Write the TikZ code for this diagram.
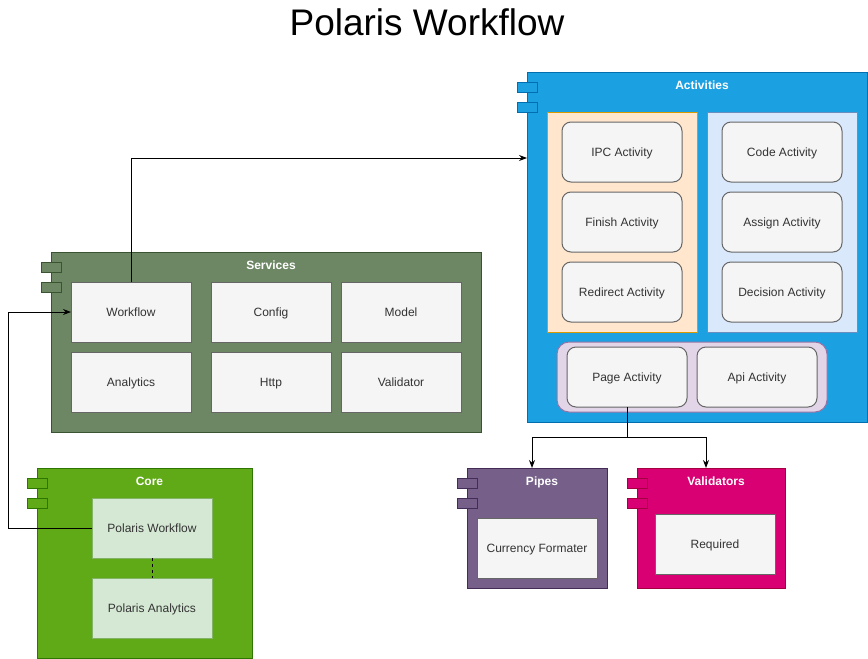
\documentclass[tikz,border=0pt]{standalone}
\usepackage{fontspec}
\setmainfont{Liberation Sans}
\usetikzlibrary{calc,arrows.meta}
\definecolor{actfill}{HTML}{1BA1E2}
\definecolor{actdraw}{HTML}{006EAF}
\definecolor{orfill}{HTML}{FFE6CC}
\definecolor{ordraw}{HTML}{D79B00}
\definecolor{lbfill}{HTML}{DAE8FC}
\definecolor{lbdraw}{HTML}{6C8EBF}
\definecolor{pufill}{HTML}{E1D5E7}
\definecolor{pudraw}{HTML}{9673A6}
\definecolor{itfill}{HTML}{F5F5F5}
\definecolor{itdraw}{HTML}{666666}
\definecolor{ittext}{HTML}{333333}
\definecolor{svfill}{HTML}{6D8764}
\definecolor{svdraw}{HTML}{3A5431}
\definecolor{cofill}{HTML}{60A917}
\definecolor{codraw}{HTML}{2D7600}
\definecolor{gifill}{HTML}{D5E8D4}
\definecolor{gidraw}{HTML}{82B366}
\definecolor{pifill}{HTML}{76608A}
\definecolor{pidraw}{HTML}{432D57}
\definecolor{vafill}{HTML}{D80073}
\definecolor{vadraw}{HTML}{A50040}
\tikzset{
  pack/.style 2 args={fill=#1, draw=#2, line width=1pt, inner sep=0pt, outer sep=0pt},
  tab/.style 2 args={pack={#1}{#2}, minimum width=20pt, minimum height=10pt},
  packtitle/.style={text=white, font=\fontsize{12}{14}\selectfont\bfseries,
    text height=8.6pt, text depth=0pt, inner sep=0pt},
  item/.style={fill=itfill, draw=itdraw, text=ittext, line width=1pt, inner sep=0pt,
    outer sep=0pt, minimum width=120pt, minimum height=60pt, text height=8.6pt, text depth=0pt},
  ritem/.style={item, rounded corners=9pt},
  link/.style={draw=black, line width=1pt, -{Stealth[length=8pt,width=6pt]}}
}
\newcommand{\packdeco}[4]{%
  \node[tab={#2}{#3}] (#1t1) at ($(#1.north west)+(0,15)$) {};
  \node[tab={#2}{#3}] (#1t2) at ($(#1.north west)+(0,35)$) {};
  \node[packtitle] (#1title) at ($(#1.north)+(5,13)$) {#4};}
\begin{document}
\begin{tikzpicture}[x=1pt, y=-1pt, font=\fontsize{12}{14}\selectfont]
	\useasboundingbox (0,0) rectangle (868,659);
	\node[font=\fontsize{37}{40}\selectfont] (title) at (427,22) {Polaris Workflow};
	% Activities package
	\node[pack={actfill}{actdraw}, minimum width=340pt, minimum height=350pt] (act) at (697,247) {};
	\packdeco{act}{actfill}{actdraw}{Activities}
	\node[pack={orfill}{ordraw}, minimum width=150pt, minimum height=220pt] (orng) at (622,222) {};
	\node[pack={lbfill}{lbdraw}, minimum width=150pt, minimum height=220pt] (lblu) at (782,222) {};
	\node[pack={pufill}{pudraw}, rounded corners=12pt, minimum width=270pt, minimum height=70pt] (purp) at (692,377) {};
	\foreach \name/\x/\y/\txt in {ipc/622/152/IPC Activity, fin/622/222/Finish Activity,
	  red/622/292/Redirect Activity, code/782/152/Code Activity, asg/782/222/Assign Activity,
	  dec/782/292/Decision Activity, pa/627/377/Page Activity, api/757/377/Api Activity}
	{ \node[ritem] (\name) at (\x,\y) {\txt}; }
	% Services package
	\node[pack={svfill}{svdraw}, minimum width=430pt, minimum height=180pt] (serv) at (266,342) {};
	\packdeco{serv}{svfill}{svdraw}{Services}
	\foreach \name/\x/\y/\txt in {wf/131/312/Workflow, cfg/271/312/Config, mdl/401/312/Model,
	  anl/131/382/Analytics, http/271/382/Http, vld/401/382/Validator}
	{ \node[item] (\name) at (\x,\y) {\txt}; }
	% Core package
	\node[pack={cofill}{codraw}, minimum width=215pt, minimum height=190pt] (core) at (144.5,563) {};
	\packdeco{core}{cofill}{codraw}{Core}
	\node[item, fill=gifill, draw=gidraw] (pw) at (152,528) {Polaris Workflow};
	\node[item, fill=gifill, draw=gidraw] (pan) at (152,608) {Polaris Analytics};
	% Pipes and Validators packages
	\node[pack={pifill}{pidraw}, minimum width=140pt, minimum height=120pt] (pipes) at (537,528) {};
	\packdeco{pipes}{pifill}{pidraw}{Pipes}
	\node[item] (cur) at (537,548) {Currency Formater};
	\node[pack={vafill}{vadraw}, minimum width=148pt, minimum height=120pt] (vals) at (711,528) {};
	\packdeco{vals}{vafill}{vadraw}{Validators}
	\node[item] (req) at (715,544) {Required};
	% connectors
	\draw[link] (wf.north) |- ($(act.north west)+(0,86)$);
	\draw[link] (pw.west) -- ++(-84,0) |- (wf.west);
	\draw[line width=1pt, dashed] (pw.south) -- (pan.north);
	\draw[link] (pa.south) -- ++(0,30) -| ($(pipes.north)+(-5,0)$);
	\draw[link] (pa.south) -- ++(0,30) -| ($(vals.north)+(-5,0)$);
\end{tikzpicture}
\end{document}
